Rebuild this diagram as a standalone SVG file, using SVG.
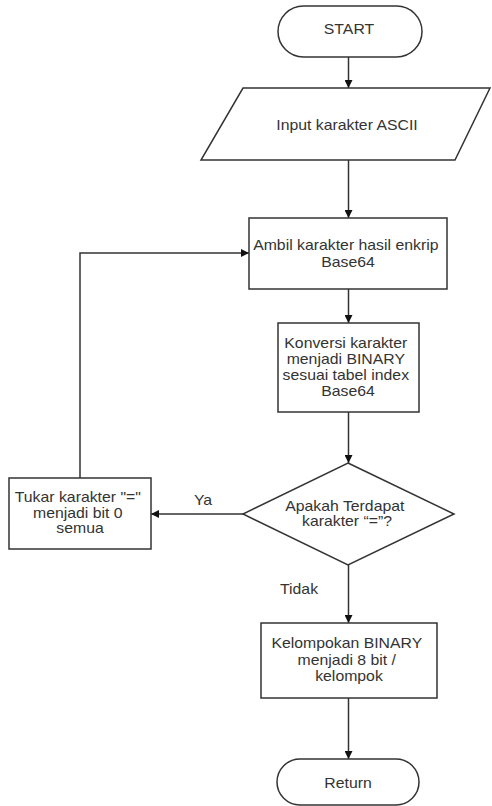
<svg xmlns="http://www.w3.org/2000/svg" width="492" height="806" viewBox="0 0 492 806">
  <style>
    .shape { fill: #ffffff; stroke: #333333; stroke-width: 1.5; }
    .edge { fill: none; stroke: #333333; stroke-width: 1.5; }
    .lbl { font-family: "Liberation Sans", Arial, sans-serif; font-size: 14px; fill: #333333; text-anchor: middle; }
  </style>
  <defs>
    <marker id="arrow" viewBox="0 0 10 10" refX="10" refY="5" markerWidth="8" markerHeight="8" markerUnits="userSpaceOnUse" orient="auto">
      <path d="M0,0 L10,5 L0,10 Z" fill="#111111"/>
    </marker>
  </defs>
  <rect width="492" height="806" fill="#ffffff"/>

  <!-- connectors -->
  <g id="connectors">
    <path class="edge" d="M348.5,57 V88" marker-end="url(#arrow)"/>
    <path class="edge" d="M348.5,160 V218" marker-end="url(#arrow)"/>
    <path class="edge" d="M348.5,289 V323" marker-end="url(#arrow)"/>
    <path class="edge" d="M348.5,412 V463" marker-end="url(#arrow)"/>
    <path class="edge" d="M243,514 H151" marker-end="url(#arrow)"/>
    <path class="edge" d="M80,478 V253 H249" marker-end="url(#arrow)"/>
    <path class="edge" d="M348.5,565 V623" marker-end="url(#arrow)"/>
    <path class="edge" d="M348.5,698 V759" marker-end="url(#arrow)"/>
    <text class="lbl" transform="translate(203 0) scale(1.13 1)" x="0" y="505">Ya</text>
    <text class="lbl" transform="translate(299 0) scale(1.13 1)" x="0" y="594">Tidak</text>
  </g>

  <g id="start">
    <rect class="shape" x="278" y="6" width="144" height="51" rx="25.5"/>
    <text class="lbl" transform="translate(349 0) scale(1.13 1)" x="0" y="34">START</text>
  </g>

  <g id="input">
    <polygon class="shape" points="243,88 490,88 455,160 201,160"/>
    <text class="lbl" transform="translate(347 0) scale(1.13 1)" x="0" y="130">Input karakter ASCII</text>
  </g>

  <g id="ambil">
    <rect class="shape" x="249" y="218" width="198" height="71"/>
    <text class="lbl" transform="translate(348 0) scale(1.13 1)">
      <tspan x="0" y="250">Ambil karakter hasil enkrip</tspan>
      <tspan x="0" y="267">Base64</tspan>
    </text>
  </g>

  <g id="konversi">
    <rect class="shape" x="278" y="323" width="141" height="89"/>
    <text class="lbl" transform="translate(348 0) scale(1.13 1)">
      <tspan x="0" y="348">Konversi karakter</tspan>
      <tspan x="0" y="364">menjadi BINARY</tspan>
      <tspan x="0" y="380">sesuai tabel index</tspan>
      <tspan x="0" y="396">Base64</tspan>
    </text>
  </g>

  <g id="decision">
    <polygon class="shape" points="348,463 454,514 348,565 243,514"/>
    <text class="lbl" transform="translate(347 0) scale(1.13 1)">
      <tspan x="0" y="511">Apakah Terdapat</tspan>
      <tspan x="0" y="526">karakter “=”?</tspan>
    </text>
  </g>

  <g id="tukar">
    <rect class="shape" x="9" y="478" width="142" height="71"/>
    <text class="lbl" transform="translate(80 0) scale(1.13 1)">
      <tspan x="0" y="502">Tukar karakter "="</tspan>
      <tspan x="0" y="518">menjadi bit 0</tspan>
      <tspan x="0" y="533">semua</tspan>
    </text>
  </g>

  <g id="kelompokan">
    <rect class="shape" x="261" y="623" width="176" height="75"/>
    <text class="lbl" transform="translate(349 0) scale(1.13 1)">
      <tspan x="0" y="648">Kelompokan BINARY</tspan>
      <tspan x="0" y="665">menjadi 8 bit /</tspan>
      <tspan x="0" y="681">kelompok</tspan>
    </text>
  </g>

  <g id="return">
    <rect class="shape" x="277" y="759" width="142" height="46" rx="23"/>
    <text class="lbl" transform="translate(348 0) scale(1.13 1)" x="0" y="788">Return</text>
  </g>
</svg>
